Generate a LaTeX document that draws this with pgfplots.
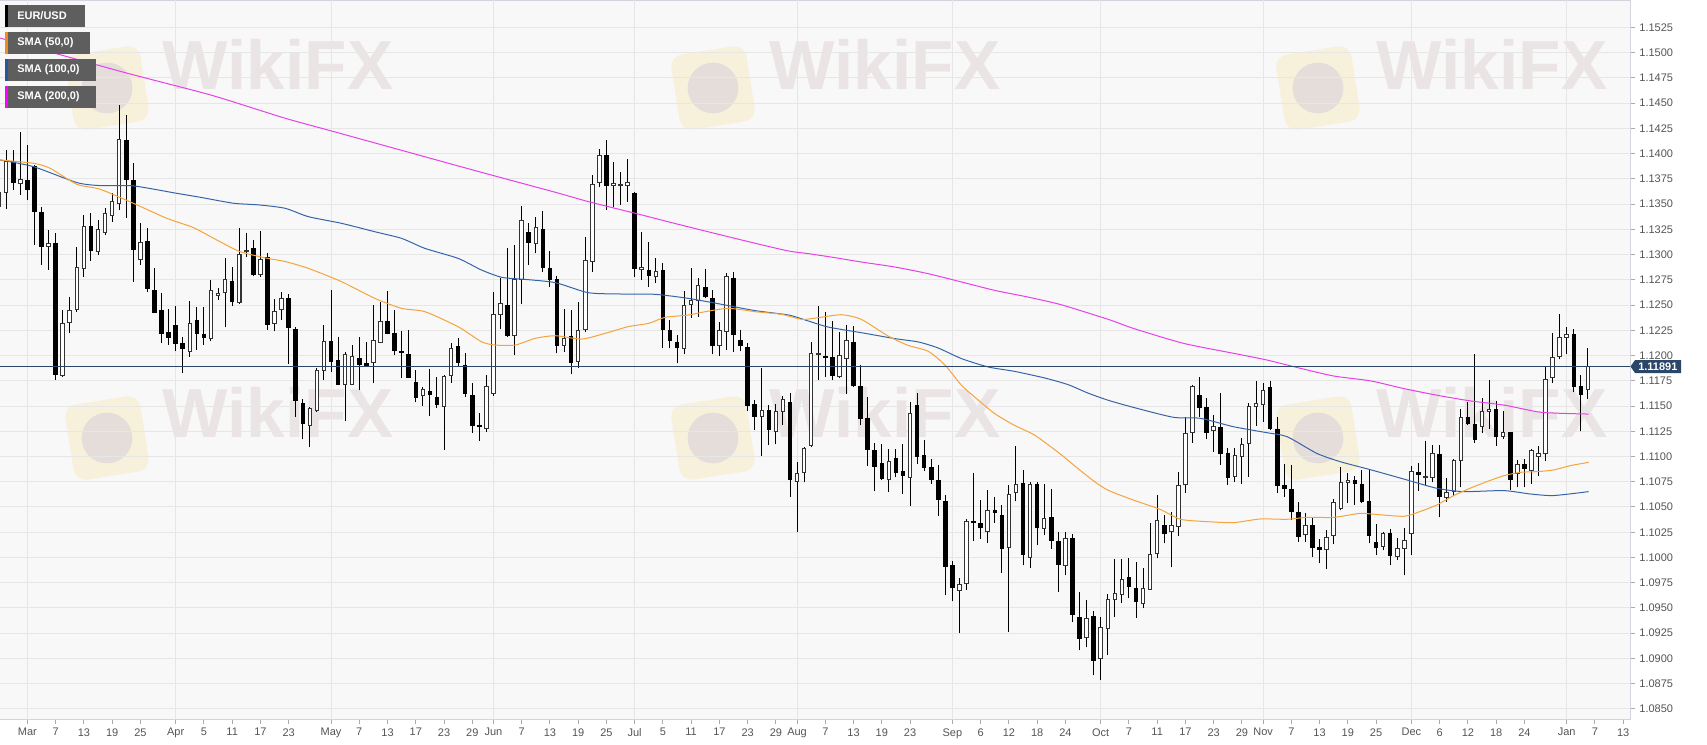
\documentclass[border=0pt]{standalone}
\usepackage{fontspec}
\setmainfont{Liberation Sans}
\usepackage{pgfplots}
\usepackage{pgfplotstable}
\pgfplotsset{compat=1.18}

\definecolor{plotbg}{HTML}{F8F8F8}
\definecolor{gridc}{HTML}{E6E6E6}
\definecolor{axisc}{HTML}{D4D4DC}
\definecolor{tickc}{HTML}{AAAAAA}
\definecolor{labc}{HTML}{555555}
\definecolor{smaA}{HTML}{F5A33C}
\definecolor{smaB}{HTML}{3565A8}
\definecolor{smaC}{HTML}{E640E6}
\definecolor{navy}{HTML}{2A4668}
\definecolor{legbg}{HTML}{5E5E5E}
\definecolor{legA}{HTML}{F08C1E}
\definecolor{legB}{HTML}{2258A0}
\definecolor{legC}{HTML}{FF00FF}
\definecolor{wmtext}{HTML}{EBE4E4}
\definecolor{wmlogo}{HTML}{F7F0DA}
\definecolor{wmeagle}{HTML}{E4DDDA}
\definecolor{bodyedge}{HTML}{333333}

\newcommand{\pxfont}{\fontsize{8.25pt}{9.5pt}\selectfont}

\pgfplotstableread{
i o h l c
-4 1.13475 1.13706 1.13277 1.13614
-3 1.13614 1.14036 1.13449 1.13921
-2 1.13921 1.14036 1.13640 1.13713
-1 1.13706 1.14211 1.13590 1.13739
0 1.13732 1.14086 1.13541 1.13647
1 1.13871 1.13888 1.13095 1.13426
2 1.13419 1.13475 1.12898 1.13079
3 1.13076 1.13244 1.12848 1.13112
4 1.13105 1.13211 1.11759 1.11808
5 1.11805 1.12452 1.11792 1.12313
6 1.12330 1.12577 1.12221 1.12442
7 1.12452 1.13079 1.12435 1.12871
8 1.12864 1.13392 1.12782 1.13277
9 1.13277 1.13409 1.12940 1.13039
10 1.13029 1.13343 1.12996 1.13251
11 1.13221 1.13458 1.13195 1.13402
12 1.13383 1.13607 1.13326 1.13525
13 1.13508 1.14482 1.13442 1.14142
14 1.14128 1.14383 1.13360 1.13746
15 1.13729 1.13911 1.12732 1.13046
16 1.12954 1.13317 1.12898 1.13119
17 1.13129 1.13261 1.12633 1.12666
18 1.12647 1.12864 1.12419 1.12429
19 1.12445 1.12617 1.12122 1.12221
20 1.12228 1.12462 1.12106 1.12181
21 1.12297 1.12492 1.12040 1.12122
22 1.12122 1.12181 1.11825 1.12073
23 1.12040 1.12544 1.11990 1.12320
24 1.12343 1.12485 1.12056 1.12221
25 1.12208 1.12485 1.12106 1.12175
26 1.12168 1.12749 1.12139 1.12643
27 1.12591 1.12666 1.12551 1.12617
28 1.12627 1.12964 1.12287 1.12749
29 1.12732 1.12881 1.12492 1.12531
30 1.12528 1.13261 1.12511 1.13003
31 1.13029 1.13211 1.12980 1.13039
32 1.13056 1.13145 1.12792 1.12805
33 1.12798 1.13237 1.12782 1.12954
34 1.12970 1.13020 1.12254 1.12310
35 1.12320 1.12558 1.12238 1.12432
36 1.12459 1.12633 1.12353 1.12561
37 1.12566 1.12609 1.11915 1.12275
38 1.12259 1.12285 1.11394 1.11552
39 1.11526 1.11566 1.11169 1.11328
40 1.11308 1.11493 1.11097 1.11476
41 1.11460 1.11873 1.11443 1.11849
42 1.11856 1.12302 1.11757 1.12143
43 1.12143 1.12648 1.11840 1.11939
44 1.11955 1.12186 1.11708 1.11714
45 1.11714 1.12038 1.11351 1.12011
46 1.11714 1.12104 1.11708 1.11995
47 1.11975 1.12180 1.11658 1.11912
48 1.11925 1.12137 1.11889 1.11906
49 1.11929 1.12500 1.11724 1.12153
50 1.12130 1.12533 1.12120 1.12338
51 1.12338 1.12642 1.12213 1.12219
52 1.12219 1.12450 1.12005 1.12054
53 1.12038 1.12246 1.11774 1.12031
54 1.12011 1.12252 1.11774 1.11783
55 1.11734 1.11856 1.11536 1.11582
56 1.11602 1.11691 1.11503 1.11665
57 1.11648 1.11866 1.11400 1.11618
58 1.11585 1.11790 1.11476 1.11519
59 1.11493 1.11807 1.11064 1.11797
60 1.11807 1.12120 1.11731 1.12071
61 1.12087 1.12170 1.11896 1.11932
62 1.11906 1.12021 1.11592 1.11625
63 1.11602 1.11731 1.11235 1.11311
64 1.11311 1.11427 1.11156 1.11301
65 1.11278 1.11807 1.11245 1.11698
66 1.11625 1.12625 1.11599 1.12407
67 1.12407 1.12771 1.12259 1.12516
68 1.12500 1.13061 1.12186 1.12196
69 1.12203 1.13094 1.12005 1.12754
70 1.12754 1.13481 1.12510 1.13342
71 1.13220 1.13309 1.12896 1.13117
72 1.13111 1.13375 1.13012 1.13269
73 1.13253 1.13434 1.12830 1.12870
74 1.12863 1.13035 1.12681 1.12754
75 1.12754 1.12787 1.12021 1.12104
76 1.12104 1.12461 1.12038 1.12170
77 1.12193 1.12451 1.11813 1.11929
78 1.11939 1.12533 1.11873 1.12246
79 1.12259 1.13177 1.12236 1.12946
80 1.12929 1.13788 1.12830 1.13695
81 1.13712 1.14042 1.13672 1.13979
82 1.13979 1.14134 1.13441 1.13679
83 1.13682 1.13913 1.13474 1.13705
84 1.13682 1.13821 1.13491 1.13695
85 1.13682 1.13943 1.13524 1.13712
86 1.13606 1.13623 1.12781 1.12857
87 1.12847 1.13227 1.12748 1.12873
88 1.12847 1.13121 1.12682 1.12797
89 1.12781 1.12962 1.12715 1.12837
90 1.12840 1.12913 1.12071 1.12253
91 1.12243 1.12352 1.12071 1.12144
92 1.12130 1.12203 1.11922 1.12081
93 1.12071 1.12639 1.12011 1.12500
94 1.12507 1.12863 1.12375 1.12543
95 1.12540 1.12764 1.12385 1.12692
96 1.12675 1.12853 1.12566 1.12583
97 1.12566 1.12649 1.12011 1.12097
98 1.12097 1.12335 1.11995 1.12246
99 1.12236 1.12814 1.12054 1.12781
100 1.12764 1.12830 1.12038 1.12213
101 1.12147 1.12253 1.12044 1.12104
102 1.12084 1.12120 1.11450 1.11503
103 1.11516 1.11559 1.11262 1.11401
104 1.11394 1.11879 1.11004 1.11460
105 1.11453 1.11510 1.11113 1.11272
106 1.11252 1.11516 1.11120 1.11444
107 1.11444 1.11599 1.11312 1.11566
108 1.11533 1.11632 1.10602 1.10773
109 1.10750 1.10948 1.10255 1.10833
110 1.10843 1.11097 1.10750 1.11080
111 1.11107 1.12130 1.11097 1.12021
112 1.12011 1.12494 1.11757 1.12018
113 1.11988 1.12434 1.11790 1.11982
114 1.11978 1.12340 1.11757 1.11800
115 1.11793 1.12233 1.11780 1.12001
116 1.11975 1.12305 1.11622 1.12150
117 1.12127 1.12292 1.11688 1.11704
118 1.11698 1.11902 1.11308 1.11381
119 1.11374 1.11589 1.10905 1.11070
120 1.11061 1.11133 1.10654 1.10902
121 1.10928 1.11127 1.10763 1.10780
122 1.10773 1.11077 1.10648 1.10955
123 1.10978 1.11077 1.10796 1.10839
124 1.10852 1.11127 1.10631 1.10813
125 1.10796 1.11539 1.10509 1.11424
126 1.11506 1.11628 1.10928 1.11001
127 1.11011 1.11160 1.10852 1.10895
128 1.10889 1.10978 1.10730 1.10770
129 1.10763 1.10919 1.10410 1.10572
130 1.10555 1.10614 1.09624 1.09912
131 1.09921 1.09961 1.09565 1.09700
132 1.09674 1.09796 1.09255 1.09733
133 1.09746 1.10384 1.09674 1.10357
134 1.10357 1.10839 1.10159 1.10351
135 1.10334 1.10565 1.10186 1.10295
136 1.10262 1.10671 1.10146 1.10466
137 1.10466 1.10598 1.10344 1.10443
138 1.10417 1.10516 1.09849 1.10093
139 1.10096 1.10714 1.09261 1.10625
140 1.10648 1.11100 1.10555 1.10724
141 1.10730 1.10862 1.09921 1.10027
142 1.10004 1.10747 1.09895 1.10724
143 1.10724 1.10747 1.10120 1.10301
144 1.10291 1.10730 1.10219 1.10390
145 1.10400 1.10674 1.10087 1.10169
146 1.10159 1.10252 1.09657 1.09928
147 1.09921 1.10252 1.09822 1.10192
148 1.10186 1.10235 1.09360 1.09433
149 1.09410 1.09657 1.09080 1.09195
150 1.09212 1.09575 1.09113 1.09393
151 1.09416 1.09466 1.08832 1.08980
152 1.08997 1.09410 1.08782 1.09311
153 1.09298 1.09638 1.09034 1.09579
154 1.09579 1.09981 1.09413 1.09645
155 1.09638 1.09981 1.09552 1.09783
156 1.09803 1.09991 1.09595 1.09717
157 1.09694 1.09952 1.09404 1.09562
158 1.09546 1.09892 1.09496 1.09694
159 1.09684 1.10338 1.09678 1.10034
160 1.10040 1.10619 1.09991 1.10364
161 1.10312 1.10421 1.10140 1.10239
162 1.10255 1.10447 1.09902 1.10315
163 1.10305 1.10850 1.10212 1.10708
164 1.10718 1.11395 1.10642 1.11229
165 1.11236 1.11708 1.11137 1.11692
166 1.11603 1.11791 1.11395 1.11487
167 1.11484 1.11583 1.11170 1.11239
168 1.11259 1.11411 1.11048 1.11295
169 1.11286 1.11626 1.10916 1.11031
170 1.11031 1.11081 1.10718 1.10790
171 1.10800 1.11081 1.10751 1.11008
172 1.10998 1.11180 1.10728 1.11114
173 1.11130 1.11527 1.10800 1.11500
174 1.11500 1.11748 1.11302 1.11527
175 1.11517 1.11725 1.11345 1.11649
176 1.11682 1.11751 1.11262 1.11279
177 1.11269 1.11395 1.10635 1.10711
178 1.10708 1.10922 1.10602 1.10685
179 1.10678 1.10916 1.10371 1.10454
180 1.10447 1.10553 1.10156 1.10206
181 1.10232 1.10437 1.10156 1.10315
182 1.10312 1.10404 1.10008 1.10097
183 1.10094 1.10180 1.09942 1.10074
184 1.10074 1.10272 1.09882 1.10199
185 1.10216 1.10576 1.10133 1.10543
186 1.10487 1.10899 1.10470 1.10741
187 1.10741 1.10833 1.10543 1.10764
188 1.10761 1.10807 1.10520 1.10734
189 1.10724 1.10866 1.10536 1.10559
190 1.10559 1.10873 1.10140 1.10222
191 1.10150 1.10331 1.10024 1.10097
192 1.10112 1.10257 1.10069 1.10240
193 1.10240 1.10283 1.09921 1.10020
194 1.10013 1.10191 1.09970 1.10092
195 1.10092 1.10296 1.09822 1.10168
196 1.10240 1.10909 1.10026 1.10853
197 1.10843 1.10935 1.10662 1.10817
198 1.10794 1.11156 1.10711 1.10804
199 1.10794 1.11113 1.10744 1.11031
200 1.11024 1.11113 1.10398 1.10606
201 1.10596 1.10787 1.10547 1.10645
202 1.10652 1.10975 1.10613 1.10958
203 1.10958 1.11469 1.10695 1.11387
204 1.11387 1.11541 1.11311 1.11331
205 1.11314 1.12013 1.11133 1.11173
206 1.11298 1.11578 1.11232 1.11446
207 1.11449 1.11756 1.11271 1.11469
208 1.11462 1.11551 1.11107 1.11199
209 1.11199 1.11452 1.11173 1.11238
210 1.11238 1.11245 1.10672 1.10777
211 1.10827 1.10965 1.10695 1.10919
212 1.10919 1.10975 1.10695 1.10883
213 1.10860 1.11074 1.10728 1.11057
214 1.10995 1.11107 1.10810 1.11028
215 1.11031 1.11897 1.10952 1.11765
216 1.11782 1.12220 1.11726 1.11980
217 1.11986 1.12408 1.11963 1.12177
218 1.12177 1.12286 1.12012 1.12207
219 1.12207 1.12260 1.11634 1.11690
220 1.11693 1.11805 1.11248 1.11617
221 1.11660 1.12078 1.11574 1.11891
}\candles

\pgfplotsset{candleaxis/.style={at={(0pt,0pt)}, anchor=north west,
  width=1222.5pt, height=539.25pt, scale only axis,
  xmin=-3.88, xmax=226.96, ymin=1.08400, ymax=1.15521}}

\begin{document}
\begin{tikzpicture}
\useasboundingbox (0pt,0pt) rectangle (1280.25pt,-558pt);
\begin{scope}[x=0.75pt,y=-0.75pt]
\fill[white] (0,0) rectangle (1707,744);
\fill[plotbg] (0,0) rectangle (1630,719);
% watermarks
\foreach \cx/\cy in {107/88,713/88,1318/88,107/438,713/438,1318/438}{
  \node[rotate=9, fill=wmlogo, rounded corners=9pt, minimum size=57pt, inner sep=0pt] at (\cx,\cy) {};
  \fill[wmeagle] (\cx,\cy) circle (19pt);
}
\foreach \cx/\cy in {278/64,885/64,1492/64,278/412,885/412,1492/412}{
  \node[text=wmtext, font=\fontsize{52pt}{52pt}\selectfont\bfseries, inner sep=0pt] at (\cx,\cy) {WikiFX};
}
\end{scope}

% axis 1: frame, grid, ticks, wicks
\begin{axis}[candleaxis,
  axis line style={draw=axisc, line width=0.75pt},
  tick align=outside, xtick pos=left, ytick pos=right,
  major tick length=3.5pt,
  tick style={draw=tickc, line width=0.75pt},
  xtick={0,4,8,12,16,21,25,29,33,37,43,47,51,55,59,63,66,70,74,78,82,86,90,94,98,102,106,109,113,117,121,125,131,135,139,143,147,152,156,160,164,168,172,175,179,183,187,191,196,200,204,208,212,218,222,226},
  xticklabels={Mar,7,13,19,25,Apr,5,11,17,23,May,7,13,17,23,29,Jun,7,13,19,25,Jul,5,11,17,23,29,Aug,7,13,19,23,Sep,6,12,18,24,Oct,7,11,17,23,29,Nov,7,13,19,25,Dec,6,12,18,24,Jan,7,13},
  ytick={1.0850,1.0875,1.0900,1.0925,1.0950,1.0975,1.1000,1.1025,1.1050,1.1075,1.1100,1.1125,1.1150,1.1175,1.1200,1.1225,1.1250,1.1275,1.1300,1.1325,1.1350,1.1375,1.1400,1.1425,1.1450,1.1475,1.1500,1.1525},
  ymajorgrids, grid style={draw=gridc, line width=0.75pt},
  extra x ticks={0,21,43,66,86,109,131,152,175,196,218},
  extra x tick style={grid=major, major tick length=0pt, xticklabel={}},
  scaled y ticks=false,
  /pgf/number format/assume math mode=true,
  yticklabel style={/pgf/number format/fixed, /pgf/number format/fixed zerofill, /pgf/number format/precision=4},
  tick label style={font=\pxfont, text=labc},
]
\addplot[draw=none, mark=none, forget plot,
  error bars/.cd, y dir=plus, y explicit, error mark=none,
  error bar style={draw=black, solid, line width=0.75pt}]
  table[x=i, y=l, y error expr={\thisrow{h}-\thisrow{l}}] {\candles};
\end{axis}

% axis 2: candle bodies
\begin{axis}[candleaxis, hide axis, ybar stacked, bar width=0.5]
\addplot[draw=none, fill=none] table[x=i, y expr={min(\thisrow{o},\thisrow{c})}] {\candles};
\addplot[fill=white, draw=bodyedge, line width=0.75pt] table[x=i, y expr={max(\thisrow{c}-\thisrow{o},0)}] {\candles};
\addplot[fill=black, draw=black, line width=0.75pt] table[x=i, y expr={max(\thisrow{o}-\thisrow{c},0)}] {\candles};
\end{axis}

% axis 3: moving averages and last price
\begin{axis}[candleaxis, hide axis]
\addplot[smaC, line width=0.75pt, smooth, tension=0.4] coordinates {
(-3.9,1.15145) (13.5,1.14808) (24.4,1.14610) (28.3,1.14531) (36.5,1.14350) (42.9,1.14227) (52.8,1.14036) (64.1,1.13818) (74.8,1.13616) (79.45,1.13524) (86.1,1.13408) (92.2,1.13299) (98.3,1.13193) (103.1,1.13111) (107.8,1.13035) (110.6,1.13009) (114.4,1.12969) (118.1,1.12926) (122.9,1.12876) (127.6,1.12810) (132.3,1.12728) (137,1.12645) (141.7,1.12579) (146.4,1.12503) (153.2,1.12355) (156.6,1.12269) (163.7,1.12121) (170.8,1.12022) (175.5,1.11956) (180.3,1.11873) (185,1.11797) (190.2,1.11749) (194.9,1.11673) (199.6,1.11607) (204.3,1.11551) (209.1,1.11509) (213.8,1.11443) (216.6,1.11429) (221.1,1.11420)};
\addplot[smaB, line width=0.75pt, smooth, tension=0.4] coordinates {
(-3.9,1.13937) (0.84,1.13871) (7,1.13713) (10.3,1.13683) (15,1.13680) (21.1,1.13607) (24.5,1.13567) (29.2,1.13508) (32.9,1.13491) (36.5,1.13458) (39.8,1.13375) (44.5,1.13309) (49.2,1.13226) (53,1.13160) (56.3,1.13061) (61,1.12962) (64.3,1.12847) (67.2,1.12774) (70.5,1.12754) (74.8,1.12721) (79.45,1.12622) (84.2,1.12609) (88.9,1.12606) (93.6,1.12566) (98.3,1.12507) (103.1,1.12444) (107.8,1.12401) (110.6,1.12342) (113.4,1.12282) (118.1,1.12226) (122.9,1.12167) (126.2,1.12134) (129,1.12074) (132.3,1.11969) (136.1,1.11886) (139.8,1.11843) (144.1,1.11777) (147.4,1.11711) (150.2,1.11628) (153.1,1.11556) (156.6,1.11487) (162.3,1.11388) (166.1,1.11378) (170.8,1.11295) (175.5,1.11236) (178.4,1.11196) (182.6,1.11031) (185.9,1.10949) (190.2,1.10869) (194.9,1.10777) (199.6,1.10685) (203.4,1.10652) (209.1,1.10662) (212.8,1.10629) (216.1,1.10613) (221.1,1.10652)};
\addplot[smaA, line width=0.75pt, smooth, tension=0.4] coordinates {
(-3.9,1.13937) (0.84,1.13904) (3.2,1.13855) (7,1.13696) (10.3,1.13647) (15,1.13508) (19.7,1.13360) (23.5,1.13267) (26.8,1.13145) (30.1,1.13029) (33.9,1.12964) (36.5,1.12931) (39.8,1.12863) (44.5,1.12731) (49.2,1.12566) (53,1.12467) (56.3,1.12434) (61,1.12285) (64.3,1.12137) (66.2,1.12104) (69.1,1.12104) (71.9,1.12170) (74.8,1.12196) (78.5,1.12163) (81.8,1.12219) (85.1,1.12286) (88,1.12319) (90.3,1.12378) (93.6,1.12401) (96,1.12434) (99.3,1.12467) (103.1,1.12434) (106.8,1.12408) (109.7,1.12358) (112,1.12375) (115.3,1.12404) (118.1,1.12358) (121.9,1.12193) (124.7,1.12101) (127.6,1.12041) (130,1.11902) (132.3,1.11704) (134.7,1.11556) (137,1.11424) (139.8,1.11308) (142.7,1.11209) (146.4,1.11018) (148.8,1.10879) (151.2,1.10747) (153.1,1.10664) (156.6,1.10569) (160.4,1.10477) (163.3,1.10378) (167,1.10355) (170.8,1.10345) (174.6,1.10381) (178.4,1.10378) (181.2,1.10397) (185,1.10397) (188.7,1.10437) (190.2,1.10431) (194.9,1.10408) (197.2,1.10454) (199.6,1.10520) (202,1.10613) (204.3,1.10685) (206.7,1.10751) (209.1,1.10810) (211.4,1.10843) (213.8,1.10850) (216.1,1.10866) (218.5,1.10909) (221.1,1.10942)};
\addplot[navy, line width=0.75pt] coordinates {(-3.88,1.11891) (226.96,1.11891)};
\end{axis}

% legend and last-price label
\begin{scope}[x=0.75pt,y=-0.75pt]
\fill[legbg] (5,5) rectangle (85,27);  \fill[black] (5,5) rectangle (8,27);
\node[anchor=west, text=white, font=\pxfont\bfseries, inner sep=0pt] at (17,16) {EUR/USD};
\fill[legbg] (5,32) rectangle (90,54); \fill[legA] (5,32) rectangle (8,54);
\node[anchor=west, text=white, font=\pxfont\bfseries, inner sep=0pt] at (17,43) {SMA (50,0)};
\fill[legbg] (5,59) rectangle (96,81); \fill[legB] (5,59) rectangle (8,81);
\node[anchor=west, text=white, font=\pxfont\bfseries, inner sep=0pt] at (17,70) {SMA (100,0)};
\fill[legbg] (5,86) rectangle (96,108); \fill[legC] (5,86) rectangle (8,108);
\node[anchor=west, text=white, font=\pxfont\bfseries, inner sep=0pt] at (17,97) {SMA (200,0)};
\fill[navy] (1630.5,366.5) -- (1635,360) -- (1681,360) -- (1681,373) -- (1635,373) -- cycle;
\node[anchor=west, text=white, font=\pxfont\bfseries, inner sep=0pt] at (1638,366.5) {1.11891};
\end{scope}
\end{tikzpicture}
\end{document}
